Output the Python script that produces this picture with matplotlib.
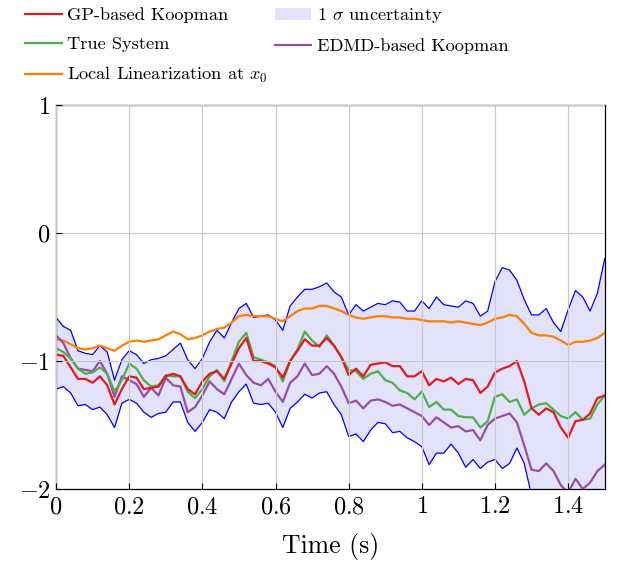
import matplotlib
matplotlib.use("Agg")
import matplotlib.pyplot as plt
import numpy as np

# time grid (s), sampled every 0.02 s
t = [round(0.02 * i, 2) for i in range(76)]

gp_koopman = [
    -0.95, -0.96, -1.05, -1.14, -1.14, -1.17, -1.12, -1.19, -1.34, -1.22,
    -1.12, -1.13, -1.22, -1.21, -1.20, -1.12, -1.10, -1.12, -1.22, -1.26,
    -1.16, -1.10, -1.08, -1.14, -1.02, -0.90, -0.82, -1.00, -1.00, -1.02,
    -1.05, -1.13, -1.00, -0.92, -0.83, -0.88, -0.88, -0.82, -0.88, -0.97,
    -1.11, -1.06, -1.12, -1.03, -1.02, -1.01, -1.04, -1.04, -1.12, -1.12,
    -1.08, -1.19, -1.14, -1.16, -1.13, -1.18, -1.14, -1.15, -1.25, -1.20,
    -1.09, -1.06, -1.04, -1.00, -1.16, -1.37, -1.42, -1.37, -1.40, -1.52,
    -1.60, -1.47, -1.46, -1.41, -1.29, -1.27]

true_system = [
    -0.90, -0.93, -0.98, -1.06, -1.10, -1.09, -1.05, -1.10, -1.24, -1.15,
    -1.02, -1.06, -1.15, -1.20, -1.19, -1.11, -1.12, -1.12, -1.24, -1.29,
    -1.22, -1.12, -1.07, -1.16, -1.00, -0.85, -0.78, -0.97, -0.99, -1.01,
    -1.04, -1.16, -1.00, -0.91, -0.77, -0.84, -0.89, -0.80, -0.88, -0.97,
    -1.07, -1.08, -1.14, -1.10, -1.08, -1.15, -1.17, -1.23, -1.25, -1.30,
    -1.24, -1.36, -1.32, -1.38, -1.38, -1.43, -1.44, -1.44, -1.52, -1.47,
    -1.28, -1.26, -1.32, -1.30, -1.42, -1.37, -1.34, -1.33, -1.38, -1.43,
    -1.45, -1.40, -1.46, -1.45, -1.34, -1.27]

local_lin = [
    -0.83, -0.84, -0.87, -0.90, -0.91, -0.90, -0.88, -0.90, -0.92, -0.88,
    -0.85, -0.84, -0.85, -0.84, -0.83, -0.80, -0.77, -0.79, -0.83, -0.82,
    -0.80, -0.77, -0.75, -0.74, -0.70, -0.65, -0.64, -0.65, -0.65, -0.65,
    -0.67, -0.69, -0.65, -0.61, -0.59, -0.59, -0.57, -0.57, -0.59, -0.61,
    -0.64, -0.66, -0.67, -0.66, -0.65, -0.65, -0.66, -0.66, -0.67, -0.67,
    -0.68, -0.69, -0.69, -0.69, -0.70, -0.69, -0.70, -0.71, -0.72, -0.70,
    -0.67, -0.66, -0.64, -0.65, -0.71, -0.78, -0.80, -0.80, -0.81, -0.84,
    -0.875, -0.85, -0.85, -0.84, -0.82, -0.78]

edmd_koopman = [
    -0.80, -0.86, -0.98, -1.06, -1.07, -1.08, -1.00, -1.10, -1.28, -1.12,
    -1.15, -1.18, -1.28, -1.21, -1.27, -1.13, -1.19, -1.20, -1.40, -1.36,
    -1.27, -1.16, -1.22, -1.26, -1.14, -1.02, -1.11, -1.17, -1.19, -1.14,
    -1.24, -1.32, -1.17, -1.12, -1.02, -1.11, -1.10, -1.04, -1.10, -1.20,
    -1.33, -1.31, -1.37, -1.31, -1.30, -1.32, -1.35, -1.34, -1.37, -1.40,
    -1.43, -1.50, -1.44, -1.48, -1.52, -1.51, -1.55, -1.54, -1.62, -1.50,
    -1.45, -1.43, -1.41, -1.48, -1.66, -1.85, -1.86, -1.80, -1.86, -1.97,
    -2.03, -1.92, -2.00, -1.95, -1.86, -1.81]

upper = [
    -0.66, -0.73, -0.76, -0.92, -0.94, -0.95, -0.88, -0.93, -1.15, -0.99,
    -0.92, -0.95, -1.02, -0.99, -0.98, -0.96, -0.91, -0.86, -0.99, -1.06,
    -0.98, -0.85, -0.76, -0.82, -0.70, -0.59, -0.55, -0.66, -0.65, -0.64,
    -0.68, -0.76, -0.57, -0.50, -0.44, -0.44, -0.42, -0.39, -0.46, -0.50,
    -0.64, -0.56, -0.61, -0.58, -0.55, -0.56, -0.53, -0.54, -0.61, -0.61,
    -0.53, -0.59, -0.50, -0.56, -0.57, -0.58, -0.53, -0.55, -0.65, -0.61,
    -0.38, -0.27, -0.29, -0.37, -0.52, -0.64, -0.64, -0.59, -0.70, -0.77,
    -0.60, -0.45, -0.50, -0.61, -0.47, -0.20]

lower = [
    -1.22, -1.20, -1.25, -1.35, -1.34, -1.38, -1.36, -1.42, -1.52, -1.33,
    -1.30, -1.33, -1.40, -1.44, -1.41, -1.40, -1.32, -1.32, -1.48, -1.55,
    -1.48, -1.38, -1.40, -1.45, -1.32, -1.24, -1.18, -1.33, -1.34, -1.33,
    -1.40, -1.52, -1.37, -1.32, -1.26, -1.29, -1.25, -1.24, -1.34, -1.42,
    -1.59, -1.57, -1.63, -1.54, -1.48, -1.49, -1.56, -1.55, -1.60, -1.63,
    -1.67, -1.81, -1.72, -1.72, -1.65, -1.72, -1.83, -1.77, -1.84, -1.79,
    -1.77, -1.84, -1.80, -1.68, -1.80, -2.05, -2.15, -2.20, -2.20, -2.20,
    -2.20, -2.20, -2.20, -2.20, -2.15, -2.10]

x_ticks = [0, 0.2, 0.4, 0.6, 0.8, 1.0, 1.2, 1.4]
x_labels = ["$0$", "$0.2$", "$0.4$", "$0.6$", "$0.8$", "$1$", "$1.2$", "$1.4$"]
y_ticks = [-2, -1, 0, 1]
y_labels = ["$-2$", "$-1$", "$0$", "$1$"]

plt.rcParams["mathtext.fontset"] = "cm"
plt.rcParams["font.family"] = "serif"
plt.rcParams["font.serif"] = ["cmr10", "DejaVu Serif"]
plt.rcParams["axes.unicode_minus"] = False

fig = plt.figure(figsize=(6.44, 5.67), dpi=100)
ax = fig.add_axes([0.087, 0.1376, 0.852, 0.6772])

ax.fill_between(t, lower, upper, color="#e2e2fb", lw=0, label="1 $\\sigma$ uncertainty")
ax.plot(t, upper, color="blue", lw=0.9)
ax.plot(t, lower, color="blue", lw=0.9)
ax.plot(t, local_lin, color="#ff7f00", lw=1.6, label="Local Linearization at $x_0$")
ax.plot(t, edmd_koopman, color="#984ea3", lw=1.6, label="EDMD-based Koopman")
ax.plot(t, true_system, color="#4daf4a", lw=1.6, label="True System")
ax.plot(t, gp_koopman, color="#e41a1c", lw=1.6, label="GP-based Koopman")

ax.set_xlim(0, 1.5)
ax.set_ylim(-2, 1)
ax.set_xticks(x_ticks)
ax.set_xticklabels(x_labels)
ax.set_yticks(y_ticks)
ax.set_yticklabels(y_labels)
ax.tick_params(direction="in", labelsize=17.5, length=4, top=False, right=False)
ax.tick_params(axis="x", pad=5)
ax.tick_params(axis="y", pad=4)
ax.grid(True, color="#c8c8c8", lw=0.8)
ax.set_axisbelow(False)
for s in ax.spines.values():
    s.set_linewidth(0.9)
ax.set_xlabel("Time (s)", fontsize=18.5, labelpad=11)

# legend order: column-major fill with 2 columns
h, l = ax.get_legend_handles_labels()
lookup = dict(zip(l, h))
order = ["GP-based Koopman", "True System", "Local Linearization at $x_0$",
         "1 $\\sigma$ uncertainty", "EDMD-based Koopman"]
fig.legend([lookup[k] for k in order], order, loc="upper left",
           bbox_to_anchor=(0.022, 1.008), ncol=2, frameon=False, fontsize=13.2,
           handlelength=2.0, handletextpad=0.3, columnspacing=0.35,
           labelspacing=0.7, borderaxespad=0.2)

fig.savefig("out.png", dpi=100)
